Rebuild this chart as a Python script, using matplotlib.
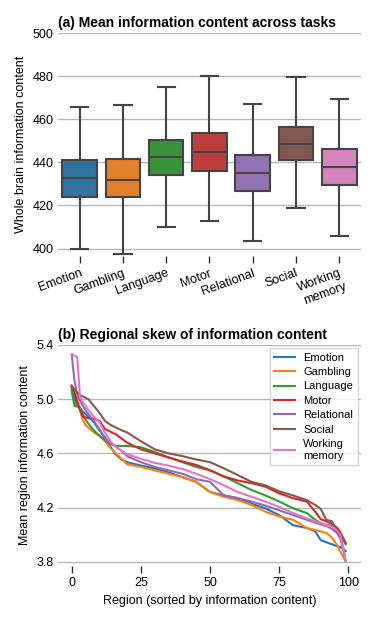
import matplotlib
matplotlib.use("Agg")
import matplotlib.pyplot as plt
import numpy as np

plt.rcParams['font.family'] = ['Liberation Sans', 'DejaVu Sans']

# --- panel (a): box statistics ---
tasks = ["Emotion", "Gambling", "Language", "Motor", "Relational", "Social", "Working\nmemory"]
whis_lo = [399.7, 397.5, 410.1, 412.9, 403.4, 419.0, 406.0]
q1 = [424.1, 423.9, 433.9, 435.8, 426.9, 441.2, 429.3]
medians = [432.7, 431.9, 442.4, 444.8, 435.1, 448.6, 437.7]
q3 = [440.9, 441.6, 450.2, 453.4, 443.5, 456.5, 446.3]
whis_hi = [465.8, 466.7, 474.9, 480.0, 467.2, 479.4, 469.2]
box_colors = ["#3274a1", "#e1812c", "#3a923a", "#c03d3e", "#9372b2", "#845b53", "#d684bd"]

# --- panel (b): mean region information content, sorted ---
region = [0, 1, 2, 3, 4, 5, 6, 8, 10, 12, 14, 16, 18, 20, 25, 30, 35, 40, 45, 50,
          55, 60, 65, 70, 75, 80, 85, 88, 90, 92, 94, 96, 97, 98, 99]
emotion = [5.08, 5.00, 4.95, 4.93, 4.91, 4.89, 4.87, 4.83, 4.77, 4.72, 4.65, 4.59, 4.555, 4.535,
           4.51, 4.49, 4.46, 4.425, 4.39, 4.315, 4.29, 4.27, 4.23, 4.195, 4.145, 4.07, 4.05,
           4.025, 3.96, 3.945, 3.93, 3.915, 3.91, 3.90, 3.88]
gambling = [5.10, 5.05, 5.00, 4.92, 4.85, 4.81, 4.79, 4.755, 4.73, 4.69, 4.64, 4.60, 4.56, 4.52,
            4.50, 4.475, 4.45, 4.425, 4.39, 4.315, 4.28, 4.255, 4.22, 4.17, 4.135, 4.11, 4.05,
            4.035, 4.025, 4.015, 3.98, 3.92, 3.88, 3.84, 3.805]
language = [5.06, 4.95, 4.945, 4.94, 4.89, 4.85, 4.82, 4.77, 4.73, 4.70, 4.67, 4.655, 4.655, 4.655,
            4.645, 4.61, 4.57, 4.535, 4.50, 4.475, 4.43, 4.38, 4.33, 4.29, 4.245, 4.195, 4.16,
            4.11, 4.085, 4.075, 4.065, 4.04, 4.01, 3.97, 3.93]
motor = [5.09, 5.05, 4.98, 4.92, 4.87, 4.865, 4.86, 4.855, 4.84, 4.78, 4.76, 4.74, 4.71, 4.68,
         4.63, 4.60, 4.57, 4.54, 4.515, 4.475, 4.43, 4.40, 4.38, 4.355, 4.305, 4.27, 4.245,
         4.17, 4.115, 4.10, 4.08, 4.05, 4.02, 3.98, 3.94]
relational = [5.33, 5.14, 5.03, 4.99, 4.95, 4.92, 4.89, 4.84, 4.78, 4.71, 4.675, 4.65, 4.62, 4.58,
              4.535, 4.50, 4.475, 4.45, 4.41, 4.39, 4.29, 4.27, 4.245, 4.215, 4.18, 4.145, 4.11,
              4.09, 4.075, 4.065, 4.045, 4.01, 3.975, 3.90, 3.805]
social = [5.10, 5.07, 5.05, 5.03, 5.02, 5.01, 5.00, 4.95, 4.90, 4.84, 4.81, 4.79, 4.77, 4.755,
          4.69, 4.63, 4.60, 4.58, 4.555, 4.535, 4.49, 4.44, 4.39, 4.365, 4.32, 4.29, 4.255,
          4.22, 4.19, 4.11, 4.10, 4.02, 3.99, 3.96, 3.94]
working_memory = [5.33, 5.32, 5.31, 5.02, 4.98, 4.95, 4.92, 4.87, 4.83, 4.755, 4.69, 4.645, 4.62, 4.595,
                  4.56, 4.53, 4.51, 4.485, 4.45, 4.41, 4.365, 4.315, 4.28, 4.245, 4.205, 4.16, 4.12,
                  4.10, 4.085, 4.07, 4.06, 4.03, 4.0, 3.92, 3.805]
series = [emotion, gambling, language, motor, relational, social, working_memory]
line_colors = plt.get_cmap("tab10").colors

grid_c = "#b8b8b8"
edge_c = "#444444"

fig = plt.figure(figsize=(3.74, 6.23), dpi=100)
ax1 = fig.add_axes([0.155, 0.589, 0.81, 0.358])
ax2 = fig.add_axes([0.155, 0.0915, 0.81, 0.355])

# (a) box plot
stats = []
for i in range(len(tasks)):
    stats.append({"med": medians[i], "q1": q1[i], "q3": q3[i],
                  "whislo": whis_lo[i], "whishi": whis_hi[i], "fliers": []})
bp = ax1.bxp(stats, positions=range(len(tasks)), widths=0.8, patch_artist=True,
             boxprops=dict(edgecolor=edge_c, linewidth=1.5),
             medianprops=dict(color=edge_c, linewidth=1.5),
             whiskerprops=dict(color=edge_c, linewidth=1.5),
             capprops=dict(color=edge_c, linewidth=1.5), zorder=3)
for patch, c in zip(bp["boxes"], box_colors):
    patch.set_facecolor(c)

ax1.set_xlim(-0.5, 6.5)
ax1.set_ylim(396.5, 500)
ax1.set_yticks([400, 420, 440, 460, 480, 500])
ax1.set_xticks(range(len(tasks)))
ax1.set_xticklabels(tasks, rotation=20, ha="right", rotation_mode="anchor")
ax1.set_ylabel("Whole brain information content", fontsize=9)
ax1.set_title("(a) Mean information content across tasks", loc="left",
              fontsize=10, fontweight="bold", pad=4)

# (b) sorted regional lines
for name, vals, c in zip(tasks, series, line_colors):
    ax2.plot(region, vals, color=c, lw=1.5, label=name)
ax2.set_ylim(3.77, 5.4)
ax2.set_yticks([3.8, 4.2, 4.6, 5.0, 5.4])
ax2.set_yticklabels(["3.8", "4.2", "4.6", "5.0", "5.4"])
ax2.set_xticks([0, 25, 50, 75, 100])
ax2.set_xlim(-4.95, 104.5)
ax2.set_xlabel("Region (sorted by information content)", fontsize=9)
ax2.set_ylabel("Mean region information content", fontsize=9)
ax2.set_title("(b) Regional skew of information content", loc="left",
              fontsize=10, fontweight="bold", pad=4)
leg = ax2.legend(loc="upper right", fontsize=8, frameon=True, fancybox=False,
                 edgecolor="#cccccc", borderaxespad=0.3, handlelength=1.9,
                 handletextpad=0.7, labelspacing=0.4)

for ax in (ax1, ax2):
    for s in ax.spines.values():
        s.set_visible(False)
    ax.yaxis.grid(True, color=grid_c, lw=1)
    ax.set_axisbelow(True)
    ax.tick_params(axis="y", length=0, labelsize=9, pad=3)
    ax.tick_params(axis="x", length=5, width=1, color="#333333", labelsize=9, pad=3)

fig.savefig("out.png", dpi=100)
